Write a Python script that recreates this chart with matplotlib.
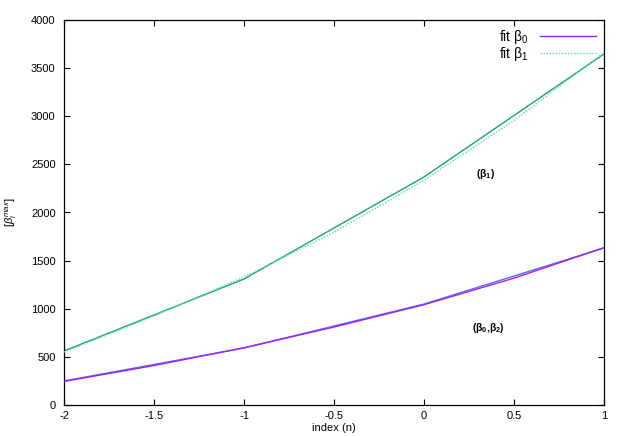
import matplotlib
matplotlib.use("Agg")
import matplotlib.pyplot as plt

plt.rcParams['font.family'] = ['Liberation Sans', 'DejaVu Sans']
plt.rcParams['mathtext.fontset'] = 'custom'
plt.rcParams['mathtext.rm'] = 'Liberation Sans'
plt.rcParams['mathtext.it'] = 'Liberation Sans:italic'
plt.rcParams['mathtext.bf'] = 'Liberation Sans:bold'

# data points (integer index)
x_data = [-2, -1, 0, 1]
beta0_data = [250, 592, 1049, 1631]
beta1_data = [561, 1309, 2369, 3647]

# fitted curves
x_fit = [-2, -1.5, -1, -0.5, 0, 0.5, 1]
beta0_fit = [245, 410, 595, 810, 1042, 1318, 1635]
beta1_fit = [550, 925, 1330, 1795, 2335, 2955, 3660]

xticks = [-2, -1.5, -1, -0.5, 0, 0.5, 1]
yticks = [0, 500, 1000, 1500, 2000, 2500, 3000, 3500, 4000]

fig = plt.figure(figsize=(6.23, 4.36), dpi=100)
ax = fig.add_axes([64/623, 1-405/436, (604-64)/623, (405-20)/436])

ax.plot(x_data, beta0_data, color='#5a6cf0', lw=1.0, zorder=2)
ax.plot(x_fit, beta0_fit, color='#a020f0', lw=1.0, label='fit β$_0$', zorder=3)
ax.plot(x_data, beta1_data, color='#1aa37a', lw=1.0, zorder=2)
ax.plot(x_fit, beta1_fit, color='#5cd6b0', lw=1.0, ls=(0, (1, 1.2)), label='fit β$_1$', zorder=3)

ax.set_xlim(-2, 1)
ax.set_ylim(0, 4000)
ax.set_xticks(xticks)
ax.set_xticklabels([f'{t:g}' for t in xticks])
ax.set_yticks(yticks)
ax.set_yticklabels([str(t) for t in yticks])
ax.tick_params(direction='in', top=True, right=True, labelsize=8, length=4, width=0.8)
ax.tick_params(axis='x', pad=4)
ax.tick_params(axis='y', pad=6)
for s in ax.spines.values():
    s.set_linewidth(0.9)

ax.set_xlabel('index (n)', fontsize=8, labelpad=2)
ax.set_ylabel(r'$[\beta_i^{max}]$', fontsize=8, labelpad=9)

ax.text(0.34, 2400, '(β$_\\mathbf{1}$)', fontsize=7.5, ha='center', va='center', fontweight='bold')
ax.text(0.36, 800, '(β$_\\mathbf{0}$,β$_\\mathbf{2}$)', fontsize=7.5, ha='center', va='center', fontweight='bold')

leg = ax.legend(loc='upper right', frameon=False, markerfirst=False, fontsize=10,
                handlelength=4.0, handletextpad=0.8, labelspacing=-0.1,
                borderaxespad=0.2)

fig.savefig('out.png', dpi=100)
